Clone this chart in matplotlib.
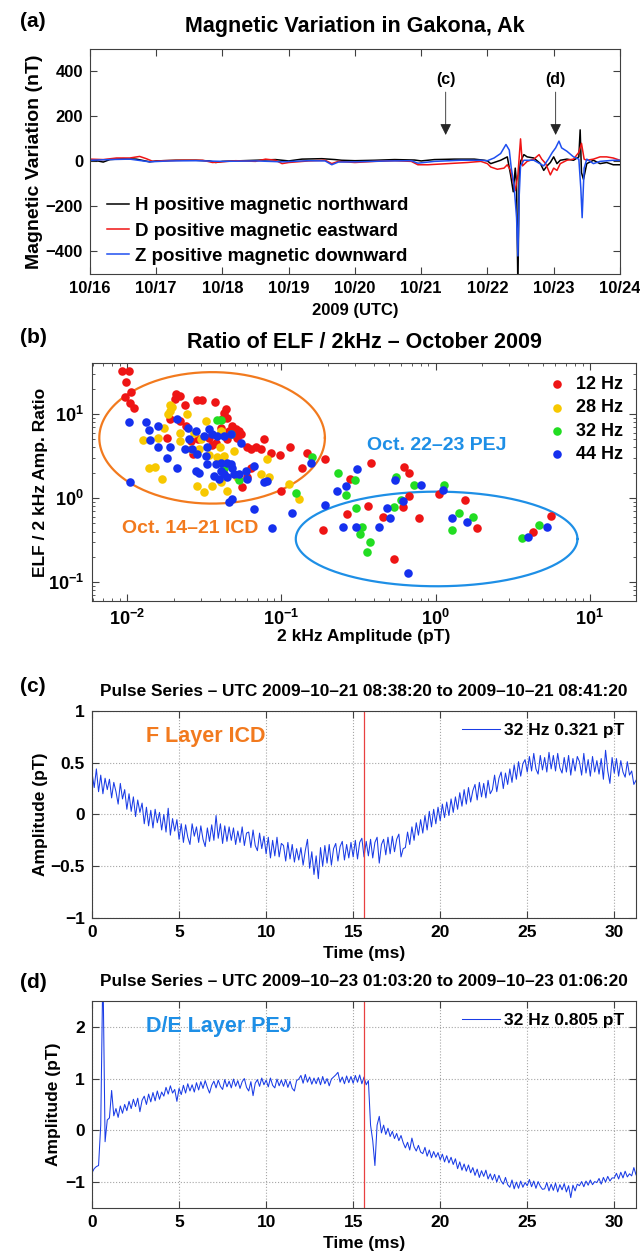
import numpy as np
import matplotlib
matplotlib.use('Agg')
import matplotlib.pyplot as plt
from matplotlib import font_manager

names = {f.name for f in font_manager.fontManager.ttflist}
NARROW = 'Liberation Sans Narrow' if 'Liberation Sans Narrow' in names else 'Liberation Sans'
plt.rcParams['font.family'] = ['Liberation Sans', 'DejaVu Sans']
plt.rcParams['font.weight'] = 'bold'
plt.rcParams['axes.labelweight'] = 'bold'
plt.rcParams['xtick.direction'] = 'in'
plt.rcParams['ytick.direction'] = 'in'
plt.rcParams['mathtext.fontset'] = 'custom'
plt.rcParams['mathtext.rm'] = 'Liberation Sans'
plt.rcParams['mathtext.default'] = 'rm'

# ---------------- (a) magnetometer, days after 10/16 00:00 UTC ----------------
day_labels = ['10/16', '10/17', '10/18', '10/19', '10/20', '10/21', '10/22', '10/23', '10/24']
h_day = [0, 0.1, 0.2, 0.3, 0.5, 0.7, 0.9, 1.0, 1.3, 1.6, 1.8, 1.9, 2.0, 2.3, 2.6, 2.8, 3.0, 3.2,
         3.5, 3.7, 3.8, 4.0, 4.3, 4.6, 4.9, 5.0, 5.2, 5.5, 5.8, 5.95, 6.0, 6.05, 6.1, 6.2, 6.3,
         6.35, 6.39, 6.42, 6.44, 6.46, 6.48, 6.5, 6.55, 6.6, 6.7, 6.8, 6.85, 6.9, 6.95, 7.0,
         7.05, 7.1, 7.2, 7.3, 7.38, 7.4, 7.42, 7.45, 7.5, 7.6, 7.7, 7.8, 7.9, 8.0]
h_nt = [5, 3, -3, 8, 12, 10, -2, 2, 5, 5, 2, -5, 0, 3, 6, 8, 2, 10,
        12, 8, 5, 3, 5, 8, 6, 2, 8, 10, 10, 5, 2, -10, -5, 5, 20,
        -60, -135, -30, -100, -560, -50, 0, 30, 20, 15, -10, -40, -20, -5, 20,
        -10, 5, 10, 5, 20, 140, -50, -80, -10, 5, -10, -5, -15, -15]
d_day = [0, 0.2, 0.4, 0.6, 0.75, 0.85, 0.95, 1.1, 1.4, 1.7, 1.85, 2.0, 2.2, 2.5, 2.65, 2.8, 2.9,
         3.0, 3.3, 3.55, 3.65, 3.75, 4.0, 4.3, 4.6, 4.85, 4.95, 5.1, 5.4, 5.7, 5.9, 6.0, 6.05,
         6.15, 6.25, 6.3, 6.35, 6.42, 6.46, 6.5, 6.53, 6.6, 6.7, 6.78, 6.82, 6.88, 6.95, 7.0,
         7.05, 7.1, 7.2, 7.3, 7.38, 7.42, 7.46, 7.5, 7.6, 7.7, 7.8, 7.9, 8.0]
d_nt = [10, 8, 15, 15, 22, 12, 0, 3, 5, 5, -5, -2, 3, 0, 10, 5, -10,
        -5, 2, 5, -10, 0, -5, 0, 3, 0, -15, -15, -10, -5, 0, -10, -25,
        -35, -30, -15, -40, -130, -60, 100, -20, 0, 10, 30, 10, -10, -60, -30,
        -40, -10, 5, 10, 40, 80, 10, 5, 10, 20, 20, 15, 5]
z_day = [0, 0.3, 0.6, 0.9, 1.2, 1.6, 2.0, 2.5, 2.9, 3.3, 3.55, 3.65, 3.75, 4.0, 4.5, 4.85, 4.95,
         5.2, 5.6, 5.9, 6.0, 6.1, 6.2, 6.28, 6.33, 6.36, 6.4, 6.44, 6.46, 6.48, 6.5, 6.55, 6.7,
         6.85, 6.92, 6.98, 7.03, 7.08, 7.12, 7.2, 7.3, 7.38, 7.41, 7.43, 7.46, 7.5, 7.6, 7.7,
         7.9, 8.0]
z_nt = [5, 8, 10, -2, 2, 3, 0, 2, -2, 3, 2, -15, -3, -2, 2, 3, -8,
        0, 5, 5, 3, 15, 35, 75, 50, -30, -100, -250, -420, -150, -20, 5, 5,
        -20, 10, 40, 60, 90, 60, 45, 20, 10, -120, -250, -30, 10, -10, 0,
        5, 5]
marks = [('(c)', 5.37), ('(d)', 7.03)]

# ---------------- (b) ELF / 2 kHz ratio ----------------
amp_12 = [0.0092, 0.0103, 0.0098, 0.0106, 0.0096, 0.0104, 0.011, 0.0208, 0.0219, 0.0205, 0.0238,
          0.0284, 0.0306, 0.0368, 0.044, 0.0423, 0.0446, 0.0413, 0.019, 0.0221, 0.0242, 0.048,
          0.0504, 0.053, 0.0492, 0.0456, 0.0543, 0.0517, 0.018, 0.0257, 0.0287, 0.0338, 0.0374,
          0.0446, 0.077, 0.0631, 0.068, 0.0733, 0.0601, 0.085, 0.098, 0.114, 0.146, 0.192, 0.136,
          0.0268, 0.0557, 0.0601, 0.0631, 0.099, 0.0356, 0.0403,
          0.185, 0.279, 0.266, 0.363, 0.381, 0.454, 0.612, 0.622, 0.67, 0.67, 0.537, 0.785,
          1.06, 1.56, 1.85, 4.3, 5.6]
rat_12 = [32, 32, 24, 18, 16, 13.6, 11.7, 17.4, 16.3, 14.9, 12.8,
          14.6, 14.6, 13.9, 11.4, 10.4, 9.0, 8.6, 8.6, 8.3, 7.2, 7.2,
          6.6, 6.3, 5.75, 6.3, 5.75, 5.25, 5.25, 4.8, 5.0, 5.25, 4.57,
          5.0, 5.0, 3.8, 4.0, 3.8, 4.0, 3.4, 3.25, 4.1, 3.4, 2.88, 2.28,
          3.3, 1.34, 1.76, 2.3, 1.23, 4.3, 6.9,
          0.42, 1.69, 0.64, 0.81, 2.65, 0.60, 0.79, 2.36, 1.97, 1.07, 0.187, 0.58,
          1.12, 0.95, 0.44, 0.40, 0.61]
amp_28 = [0.0188, 0.019, 0.0195, 0.0183, 0.0245, 0.0126, 0.0158, 0.0174, 0.0138, 0.0152, 0.0168,
          0.0284, 0.0314, 0.0356, 0.0446, 0.0403, 0.0517, 0.0384, 0.0338, 0.0291, 0.0299, 0.0322,
          0.0221, 0.0398, 0.0492, 0.081, 0.083, 0.112, 0.13, 0.0423, 0.0221, 0.027, 0.0403,
          0.0257, 0.0733]
rat_28 = [12.8, 10.9, 12.1, 9.9, 10.1, 4.9, 5.25, 6.8, 2.3, 2.36, 1.71,
          1.41, 1.19, 1.41, 1.23, 1.54, 1.8, 3.04, 3.27, 3.8, 5.0, 8.3,
          4.8, 4.0, 3.65, 2.9, 1.76, 1.47, 0.98, 3.18, 6.0, 6.0, 6.3,
          3.8, 1.93]
amp_32 = [0.0384, 0.0403, 0.0468, 0.0423, 0.053, 0.159, 0.124,
          0.233, 0.30, 0.263, 0.306, 0.333, 0.324, 0.377, 0.359, 0.54, 0.555, 0.597, 0.72,
          1.13, 1.41, 1.28, 1.76, 3.64, 4.7]
rat_32 = [8.4, 8.4, 5.75, 2.3, 1.64, 3.1, 1.15,
          1.97, 1.64, 1.09, 0.77, 0.46, 0.38, 0.30, 0.23, 0.79, 1.76, 0.96, 1.43,
          1.43, 0.66, 0.42, 0.59, 0.34, 0.48]
amp_44 = [0.0102, 0.0132, 0.0139, 0.0158, 0.014, 0.0159, 0.019, 0.018, 0.021, 0.0104, 0.021,
          0.0247, 0.0277, 0.025, 0.0238, 0.0264, 0.0284, 0.033, 0.0322, 0.0338, 0.0356, 0.0384,
          0.0423, 0.0468, 0.0543, 0.0277, 0.0291, 0.033, 0.0374, 0.0403, 0.0446, 0.0468, 0.048,
          0.0403, 0.0423, 0.0365, 0.0393, 0.0446, 0.0492, 0.053, 0.0586, 0.0664, 0.0601, 0.077,
          0.081, 0.0456, 0.048, 0.0664, 0.117, 0.087, 0.155, 0.0314,
          0.192, 0.229, 0.263, 0.309, 0.251, 0.306, 0.431, 0.484, 0.509, 0.548, 0.612, 0.80,
          0.66, 1.11, 1.28, 1.6, 4.0, 5.3]
rat_44 = [8.1, 8.1, 6.5, 7.2, 4.9, 4.0, 4.0, 3.0, 2.3, 1.54, 8.6,
          6.9, 6.3, 5.0, 3.8, 3.8, 3.3, 4.0, 3.18, 6.6, 5.75, 5.5,
          5.5, 5.75, 4.57, 2.1, 2.0, 2.54, 2.54, 2.6, 2.65, 2.54, 2.3,
          2.1, 1.93, 1.85, 1.69, 1.76, 1.93, 1.93, 2.1, 2.43, 1.69, 1.54,
          1.61, 0.89, 0.98, 0.745, 0.66, 0.44, 2.6, 5.5,
          0.83, 1.23, 1.38, 2.21, 0.46, 0.46, 0.45, 0.77, 0.58, 1.64, 0.92, 1.43,
          0.13, 1.25, 0.58, 0.52, 0.35, 0.45]
# ellipse centres / half-axes in decades
icd_ell = (-1.45, 0.732, 0.716, 0.781)
pej_ell = (0.007, 0.914, -0.485, 0.562)

# ---------------- (c) / (d) pulse series, 0.125 ms samples ----------------
dt_ms = 0.125
pulse_c = [0.40, 0.26, 0.44, 0.22, 0.38, 0.20, 0.35, 0.24,
           0.34, 0.16, 0.31, 0.22, 0.10, 0.30, 0.15, 0.24,
           0.05, 0.20, 0.03, 0.17, -0.02, 0.14, 0.02, 0.11,
           -0.09, 0.07, -0.11, 0.04, -0.13, 0.05, -0.08, 0.02,
           -0.15, 0.00, -0.17, 0.06, -0.20, -0.04, -0.16, -0.05,
           -0.24, -0.09, -0.27, -0.10, -0.22, -0.29, -0.09, -0.21,
           -0.12, -0.27, -0.11, -0.24, -0.31, -0.13, -0.26, -0.10,
           -0.25, -0.01, -0.23, -0.09, -0.28, -0.11, -0.26, -0.12,
           -0.25, -0.13, -0.29, -0.16, -0.27, -0.12, -0.30, -0.18,
           -0.17, -0.32, -0.15, -0.30, -0.35, -0.18, -0.33, -0.21,
           -0.38, -0.22, -0.42, -0.25, -0.40, -0.22, -0.41, -0.28,
           -0.30, -0.45, -0.27, -0.43, -0.29, -0.46, -0.33, -0.44,
           -0.32, -0.49, -0.35, -0.24, -0.52, -0.36, -0.58, -0.40,
           -0.62, -0.32, -0.50, -0.30, -0.47, -0.29, -0.49, -0.33,
           -0.28, -0.45, -0.31, -0.26, -0.44, -0.29, -0.42, -0.27,
           -0.41, -0.25, -0.43, -0.27, -0.23, -0.41, -0.26, -0.40,
           -0.24, -0.42, -0.27, -0.22, -0.47, -0.29, -0.24, -0.39,
           -0.22, -0.38, -0.21, -0.36, -0.24, -0.19, -0.41, -0.33,
           -0.32, -0.17, -0.29, -0.12, -0.25, -0.08, -0.20, -0.05,
           -0.18, -0.01, -0.15, 0.03, -0.12, 0.05, -0.09, 0.07,
           -0.06, 0.10, -0.03, 0.12, -0.01, 0.15, 0.02, 0.17,
           0.05, 0.21, 0.08, 0.24, 0.10, 0.26, 0.12, 0.23,
           0.29, 0.14, 0.31, 0.17, 0.30, 0.16, 0.33, 0.20,
           0.24, 0.38, 0.22, 0.35, 0.41, 0.25, 0.40, 0.29,
           0.44, 0.31, 0.48, 0.34, 0.51, 0.37, 0.49, 0.53,
           0.41, 0.56, 0.42, 0.59, 0.44, 0.39, 0.57, 0.43,
           0.55, 0.41, 0.60, 0.44, 0.57, 0.42, 0.59, 0.45,
           0.40, 0.55, 0.41, 0.57, 0.38, 0.54, 0.42, 0.56,
           0.51, 0.38, 0.59, 0.40, 0.53, 0.37, 0.56, 0.41,
           0.52, 0.39, 0.54, 0.34, 0.62, 0.42, 0.30, 0.55,
           0.40, 0.54, 0.37, 0.52, 0.41, 0.36, 0.51, 0.38,
           0.42, 0.29, 0.33]
pulse_d = [-0.82, -0.74, -0.70, -0.68, 0.10, 3.20, -0.22, 0.20,
           0.24, 0.77, 0.28, 0.42, 0.25, 0.47, 0.33, 0.50,
           0.38, 0.56, 0.42, 0.60, 0.46, 0.62, 0.36, 0.58,
           0.66, 0.50, 0.70, 0.55, 0.73, 0.57, 0.76, 0.60,
           0.74, 0.66, 0.83, 0.70, 0.86, 0.72, 0.79, 0.56,
           0.81, 0.69, 0.87, 0.72, 0.90, 0.76, 0.88, 0.74,
           0.92, 0.78, 0.94, 0.81, 0.96, 0.83, 0.72, 0.87,
           0.95, 0.82, 0.97, 0.85, 0.79, 0.98, 0.84, 0.95,
           0.82, 0.99, 0.85, 0.96, 0.81, 0.94, 1.00, 0.83,
           0.76, 0.94, 0.67, 0.91, 0.98, 0.85, 1.01, 0.88,
           0.97, 0.84, 1.01, 0.87, 0.82, 0.99, 0.86, 0.97,
           0.85, 0.98, 0.83, 0.95, 0.81, 0.76, 0.96, 0.99,
           1.06, 0.91, 1.08, 0.93, 1.03, 0.89, 1.01, 0.90,
           1.02, 0.88, 1.04, 0.90, 1.00, 0.86, 0.99, 1.03,
           1.07, 1.12, 0.93, 1.03, 0.90, 1.05, 0.92, 1.04,
           0.91, 1.06, 0.93, 1.07, 0.90, 1.03, 0.88, 0.96,
           0.10, -0.20, -0.68, 0.10, 0.27, -0.05, 0.10, -0.08,
           0.04, -0.12, -0.02, -0.16, -0.06, -0.20, -0.10, -0.24,
           -0.34, -0.23, -0.38, -0.15, -0.32, -0.40, -0.29, -0.42,
           -0.45, -0.33, -0.50, -0.38, -0.53, -0.41, -0.52, -0.43,
           -0.57, -0.46, -0.61, -0.49, -0.63, -0.52, -0.66, -0.55,
           -0.74, -0.61, -0.77, -0.65, -0.79, -0.67, -0.82, -0.72,
           -0.87, -0.75, -0.91, -0.78, -0.89, -0.77, -0.94, -0.84,
           -0.96, -0.85, -1.00, -0.87, -0.98, -1.04, -0.91, -1.05,
           -1.10, -0.96, -1.13, -1.00, -1.12, -0.98, -1.10, -1.01,
           -1.07, -0.95, -1.09, -0.98, -1.12, -0.99, -1.08, -1.14,
           -1.13, -1.01, -1.17, -1.04, -1.16, -1.02, -1.19, -1.05,
           -1.15, -1.03, -1.19, -1.07, -1.30, -1.06, -1.17, -1.04,
           -1.07, -0.99, -1.09, -0.98, -1.06, -0.96, -1.05, -0.99,
           -1.01, -0.93, -1.04, -0.91, -1.00, -0.89, -0.98, -0.92,
           -0.92, -0.83, -0.94, -0.81, -0.92, -0.79, -0.90, -0.84,
           -0.88, -0.72, -0.86]
pulse_mark_ms = 15.625

ORANGE = '#F27A1E'
SKY = '#1E8FE6'
TRACE = '#1A3CE6'

fig = plt.figure(figsize=(6.4, 12.51), dpi=100)
nfont = dict(family=[NARROW, 'Liberation Sans'], weight='bold')

def box(ax):
    for s in ax.spines.values():
        s.set_color('0.25')
        s.set_linewidth(0.8)
    ax.tick_params(which='both', top=True, right=True, color='0.25')

# ---- (a)
ax1 = fig.add_axes([0.1406, 0.781, 0.828, 0.180])
ax1.plot(h_day, h_nt, color='k', lw=1.1, label='H positive magnetic northward')
ax1.plot(d_day, d_nt, color='#F01414', lw=1.1, label='D positive magnetic eastward')
ax1.plot(z_day, z_nt, color='#1F4FF0', lw=1.1, label='Z positive magnetic downward')
ax1.set_xlim(0, 8)
ax1.set_ylim(-500, 500)
ax1.set_xticks(range(9))
ax1.set_xticklabels(day_labels, fontdict=dict(size=12, **nfont))
ax1.set_yticks([-400, -200, 0, 200, 400])
ax1.set_yticklabels(['\u2212400', '\u2212200', '0', '200', '400'], fontdict=dict(size=12, **nfont))
box(ax1)
ax1.tick_params(length=5, pad=5)
for lab, xd in marks:
    ax1.annotate('', xy=(xd, 105), xytext=(xd, 320),
                 arrowprops=dict(arrowstyle='-|>', color='0.15', lw=0.6, mutation_scale=17))
    ax1.text(xd, 362, lab, ha='center', va='center', fontsize=11.5, fontweight='bold')
leg = ax1.legend(loc='lower left', bbox_to_anchor=(0.0, -0.035), frameon=False,
                 fontsize=13.5, handlelength=1.2, handletextpad=0.3, labelspacing=0.44)
ax1.set_xlabel('2009 (UTC)', fontsize=12, fontfamily=[NARROW, 'Liberation Sans'])
ax1.xaxis.set_label_coords(0.5, -0.13)
ax1.set_ylabel('Magnetic Variation (nT)', fontsize=14)
ax1.yaxis.set_label_coords(-0.089, 0.5)
fig.text(0.031, 0.983, '(a)', fontsize=15, fontweight='bold', va='center')
fig.text(0.555, 0.979, 'Magnetic Variation in Gakona, Ak', fontsize=15.5, fontweight='bold',
         ha='center', va='center')

# ---- (b)
ax2 = fig.add_axes([0.1438, 0.5196, 0.85, 0.190])
ms = 38
ax2.scatter(amp_12, rat_12, s=ms, color='#EE1515', lw=0, label='12 Hz', zorder=3)
ax2.scatter(amp_28, rat_28, s=ms, color='#F7C800', lw=0, label='28 Hz', zorder=3)
ax2.scatter(amp_32, rat_32, s=ms, color='#22DD22', lw=0, label='32 Hz', zorder=3)
ax2.scatter(amp_44, rat_44, s=ms, color='#1530EE', lw=0, label='44 Hz', zorder=3)
th = np.linspace(0, 2 * np.pi, 300)
for (cx, rx, cy, ry), col in [(icd_ell, ORANGE), (pej_ell, SKY)]:
    ax2.plot(10 ** (cx + rx * np.cos(th)), 10 ** (cy + ry * np.sin(th)), color=col, lw=1.6, zorder=2)
ax2.set_xscale('log')
ax2.set_yscale('log')
ax2.set_xlim(0.0059, 20)
ax2.set_ylim(0.06, 40)
box(ax2)
ax2.tick_params(which='major', length=5, labelsize=13, pad=6)
ax2.tick_params(which='minor', length=2.5)
ax2.text(0.0093, 0.435, 'Oct. 14\u201321 ICD', color=ORANGE, fontsize=14, fontweight='bold', va='center')
ax2.text(0.36, 4.2, 'Oct. 22\u201323 PEJ', color=SKY, fontsize=14, fontweight='bold', va='center')
ax2.legend(loc='upper right', frameon=False, fontsize=13, handletextpad=0.1,
           labelspacing=0.35, borderaxespad=0.3, scatterpoints=1, markerscale=1.0)
ax2.set_xlabel('2 kHz Amplitude (pT)', fontsize=12.5)
ax2.xaxis.set_label_coords(0.5, -0.118)
ax2.set_ylabel('ELF / 2 kHz Amp. Ratio', fontsize=12.5)
ax2.yaxis.set_label_coords(-0.081, 0.5)
fig.text(0.031, 0.730, '(b)', fontsize=15, fontweight='bold', va='center')
fig.text(0.569, 0.726, 'Ratio of ELF / 2kHz \u2013 October 2009', fontsize=15.5, fontweight='bold',
         ha='center', va='center')

# ---- (c) and (d)
def pulse_panel(rect, series, ylim, yticks, ylabels, note, note_col, note_y, leg):
    ax = fig.add_axes(rect)
    t = np.arange(len(series)) * dt_ms
    ax.plot(t, series, color=TRACE, lw=0.75, label=leg)
    ax.axvline(pulse_mark_ms, color='#E84040', lw=0.9)
    ax.set_xlim(0, t[-1])
    ax.set_ylim(*ylim)
    ax.set_xticks([0, 5, 10, 15, 20, 25, 30])
    ax.set_xticklabels(['0', '5', '10', '15', '20', '25', '30'], fontdict=dict(size=12.5, **nfont))
    ax.set_yticks(yticks)
    ax.set_yticklabels(ylabels, fontdict=dict(size=12.5, **nfont))
    ax.grid(True, linestyle=':', color='0.65', lw=0.8)
    box(ax)
    ax.tick_params(length=5, pad=5)
    ax.text(3.1, note_y, note, color=note_col, fontsize=15.5, fontweight='bold', va='center',
            fontfamily=[NARROW, 'Liberation Sans'])
    ax.legend(loc='upper right', frameon=False, handlelength=2.2, handletextpad=0.2,
              borderaxespad=0.3, prop=dict(size=12.5, **nfont))
    ax.set_xlabel('Time (ms)', fontsize=12.5, fontfamily=[NARROW, 'Liberation Sans'])
    ax.xaxis.set_label_coords(0.5, -0.135)
    ax.set_ylabel('Amplitude (pT)', fontsize=12.5)
    return ax

ax3 = pulse_panel([0.1438, 0.2662, 0.85, 0.1655], pulse_c, (-1, 1), [-1, -0.5, 0, 0.5, 1],
                  ['\u22121', '\u22120.5', '0', '0.5', '1'], 'F Layer ICD', ORANGE, 0.75,
                  '32 Hz 0.321 pT')
ax3.yaxis.set_label_coords(-0.081, 0.5)
fig.text(0.031, 0.451, '(c)', fontsize=15, fontweight='bold', va='center')
fig.text(0.568, 0.4476, 'Pulse Series \u2013 UTC 2009\u201310\u201321 08:38:20 to 2009\u201310\u201321 08:41:20',
         fontsize=12.4, ha='center', va='center', **nfont)

ax4 = pulse_panel([0.1438, 0.0344, 0.85, 0.1655], pulse_d, (-1.5, 2.5), [-1, 0, 1, 2],
                  ['\u22121', '0', '1', '2'], 'D/E Layer PEJ', SKY, 2.0,
                  '32 Hz 0.805 pT')
ax4.yaxis.set_label_coords(-0.057, 0.5)
fig.text(0.031, 0.215, '(d)', fontsize=15, fontweight='bold', va='center')
fig.text(0.568, 0.2158, 'Pulse Series \u2013 UTC 2009\u201310\u201323 01:03:20 to 2009\u201310\u201323 01:06:20',
         fontsize=12.4, ha='center', va='center', **nfont)

fig.savefig('out.png', dpi=100)
